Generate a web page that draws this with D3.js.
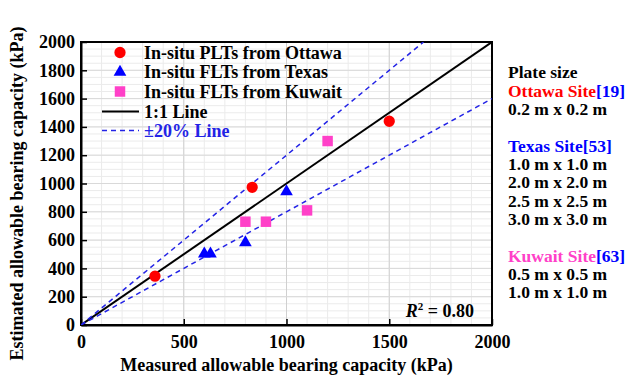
<!DOCTYPE html>
<html><head><meta charset="utf-8">
<script src="https://cdn.jsdelivr.net/npm/d3@7"></script>
<style>body{margin:0;background:#fff;} svg{display:block;font-family:"Liberation Serif","Times New Roman",serif;font-weight:bold;}</style>
</head><body>
<script>
const ottawaX = [360, 833, 1500];
const ottawaY = [345, 973, 1440];
const texasX = [600, 630, 800, 1000];
const texasY = [503, 503, 583, 943];
const kuwaitX = [800, 900, 1100, 1200];
const kuwaitY = [730, 730, 810, 1300];
const xTicks = [0, 500, 1000, 1500, 2000];
const yTicks = [0, 200, 400, 600, 800, 1000, 1200, 1400, 1600, 1800, 2000];
const legendLabels = ["In-situ PLTs from Ottawa", "In-situ FLTs from Texas", "In-situ FLTs from Kuwait", "1:1 Line", "\u00B120% Line"];

const W = 628, H = 383;
const m = {l: 81, r: 136, t: 42, b: 58};
const svg = d3.select("body").append("svg").attr("width", W).attr("height", H);
const x = d3.scaleLinear().domain([0, 2000]).range([m.l, W - m.r]);
const y = d3.scaleLinear().domain([0, 2000]).range([H - m.b, m.t]);
const RED = "#ff0000", BLUE = "#0000ff", PINK = "#ff40c8", DASH = "#2323e6";

const g = svg.append("g");
// minor grid
g.selectAll(".vmin").data(d3.range(0, 2001, 100)).join("line")
  .attr("x1", d => x(d)).attr("x2", d => x(d)).attr("y1", y(0)).attr("y2", y(2000))
  .attr("stroke", "#ebebeb").attr("stroke-width", 1);
g.selectAll(".hmin").data(d3.range(0, 2001, 50)).join("line")
  .attr("y1", d => y(d)).attr("y2", d => y(d)).attr("x1", x(0)).attr("x2", x(2000))
  .attr("stroke", "#ebebeb").attr("stroke-width", 1);
// major grid
g.selectAll(".vmaj").data(xTicks).join("line")
  .attr("x1", d => x(d)).attr("x2", d => x(d)).attr("y1", y(0)).attr("y2", y(2000))
  .attr("stroke", "#d0d0d0").attr("stroke-width", 1);
g.selectAll(".hmaj").data(yTicks).join("line")
  .attr("y1", d => y(d)).attr("y2", d => y(d)).attr("x1", x(0)).attr("x2", x(2000))
  .attr("stroke", "#d9d9d9").attr("stroke-width", 1);

// frame
svg.append("rect").attr("x", x(0)).attr("y", y(2000)).attr("width", x(2000) - x(0)).attr("height", y(0) - y(2000))
  .attr("fill", "none").attr("stroke", "#000").attr("stroke-width", 2);

// axes
const fmt = d3.format("d");
const xAxis = svg.append("g").attr("transform", `translate(0,${y(0)})`)
  .call(d3.axisBottom(x).tickValues(xTicks).tickFormat(fmt).tickSizeInner(-6).tickSizeOuter(0).tickPadding(10));
const yAxis = svg.append("g").attr("transform", `translate(${x(0)},0)`)
  .call(d3.axisLeft(y).tickValues(yTicks).tickFormat(fmt).tickSizeInner(-6).tickSizeOuter(0).tickPadding(6));
[xAxis, yAxis].forEach(a => {
  a.attr("font-family", null).attr("font-size", null);
  a.select(".domain").attr("stroke", "#000").attr("stroke-width", 2);
  a.selectAll(".tick line").attr("stroke", "#000").attr("stroke-width", 1.5);
  a.selectAll(".tick text").attr("font-size", 18).attr("font-weight", "bold").attr("fill", "#000");
});

// lines
svg.append("clipPath").attr("id", "c").append("rect")
  .attr("x", x(0)).attr("y", y(2000)).attr("width", x(2000) - x(0)).attr("height", y(0) - y(2000));
const lg = svg.append("g").attr("clip-path", "url(#c)");
lg.append("line").attr("x1", x(0)).attr("y1", y(0)).attr("x2", x(2000)).attr("y2", y(2000))
  .attr("stroke", "#000").attr("stroke-width", 2);
lg.append("line").attr("x1", x(0)).attr("y1", y(0)).attr("x2", x(2000 / 1.2)).attr("y2", y(2000))
  .attr("stroke", DASH).attr("stroke-width", 1.5).attr("stroke-dasharray", "5,4");
lg.append("line").attr("x1", x(0)).attr("y1", y(0)).attr("x2", x(2000)).attr("y2", y(1600))
  .attr("stroke", DASH).attr("stroke-width", 1.5).attr("stroke-dasharray", "5,4");

// points
const sym = (type, size) => d3.symbol().type(type).size(size)();
const ott = ottawaX.map((v, i) => [v, ottawaY[i]]);
const tex = texasX.map((v, i) => [v, texasY[i]]);
const kuw = kuwaitX.map((v, i) => [v, kuwaitY[i]]);
svg.append("g").selectAll("path").data(kuw).join("path")
  .attr("d", sym(d3.symbolSquare, 110)).attr("transform", d => `translate(${x(d[0])},${y(d[1])})`).attr("fill", PINK);
svg.append("g").selectAll("path").data(tex).join("path")
  .attr("d", sym(d3.symbolTriangle, 70)).attr("transform", d => `translate(${x(d[0])},${y(d[1])})`).attr("fill", BLUE);
svg.append("g").selectAll("path").data(ott).join("path")
  .attr("d", sym(d3.symbolCircle, 100)).attr("transform", d => `translate(${x(d[0])},${y(d[1])})`).attr("fill", RED);

// legend
const legY = [52.5, 72, 91.5, 111.5, 130.5];
const leg = svg.append("g");
leg.append("path").attr("d", sym(d3.symbolCircle, 100)).attr("transform", `translate(120,${legY[0]})`).attr("fill", RED);
leg.append("path").attr("d", sym(d3.symbolTriangle, 70)).attr("transform", `translate(120,${legY[1]})`).attr("fill", BLUE);
leg.append("path").attr("d", sym(d3.symbolSquare, 110)).attr("transform", `translate(120,${legY[2]})`).attr("fill", PINK);
leg.append("line").attr("x1", 102).attr("x2", 139).attr("y1", legY[3]).attr("y2", legY[3]).attr("stroke", "#000").attr("stroke-width", 2);
leg.append("line").attr("x1", 102).attr("x2", 139).attr("y1", legY[4]).attr("y2", legY[4]).attr("stroke", DASH).attr("stroke-width", 1.5).attr("stroke-dasharray", "5,4");
leg.selectAll("text").data(legendLabels).join("text")
  .attr("x", 144).attr("y", (d, i) => legY[i] + 6).attr("font-size", 18)
  .attr("fill", (d, i) => i === 4 ? DASH : "#000").text(d => d);

// R2
const r2 = svg.append("text").attr("x", 474).attr("y", 317).attr("text-anchor", "end").attr("font-size", 18);
r2.append("tspan").attr("font-style", "italic").text("R");
r2.append("tspan").attr("font-size", 11).attr("dy", -7).text("2");
r2.append("tspan").attr("dy", 7).text(" = 0.80");

// right annotations
const ann = [
  {y: 77.5, parts: [["Plate size", "#000"]]},
  {y: 96.5, parts: [["Ottawa Site", RED], ["[19]", BLUE]]},
  {y: 114.5, parts: [["0.2 m x 0.2 m", "#000"]]},
  {y: 151.5, parts: [["Texas Site", BLUE], ["[53]", BLUE]]},
  {y: 169.5, parts: [["1.0 m x 1.0 m", "#000"]]},
  {y: 187.5, parts: [["2.0 m x 2.0 m", "#000"]]},
  {y: 207, parts: [["2.5 m x 2.5 m", "#000"]]},
  {y: 225, parts: [["3.0 m x 3.0 m", "#000"]]},
  {y: 261.5, parts: [["Kuwait Site", PINK], ["[63]", BLUE]]},
  {y: 280, parts: [["0.5 m x 0.5 m", "#000"]]},
  {y: 298, parts: [["1.0 m x 1.0 m", "#000"]]}
];
ann.forEach(a => {
  const t = svg.append("text").attr("x", 508).attr("y", a.y).attr("font-size", 17.5);
  a.parts.forEach(p => t.append("tspan").attr("fill", p[1]).text(p[0]));
});

// axis titles
svg.append("text").attr("x", (x(0) + x(2000)) / 2).attr("y", 371).attr("text-anchor", "middle").attr("font-size", 18)
  .text("Measured allowable bearing capacity (kPa)");
svg.append("text").attr("transform", `translate(23,${(y(0) + y(2000)) / 2 + 10}) rotate(-90)`).attr("text-anchor", "middle").attr("font-size", 18)
  .text("Estimated allowable bearing capacity (kPa)");
</script>
</body></html>
